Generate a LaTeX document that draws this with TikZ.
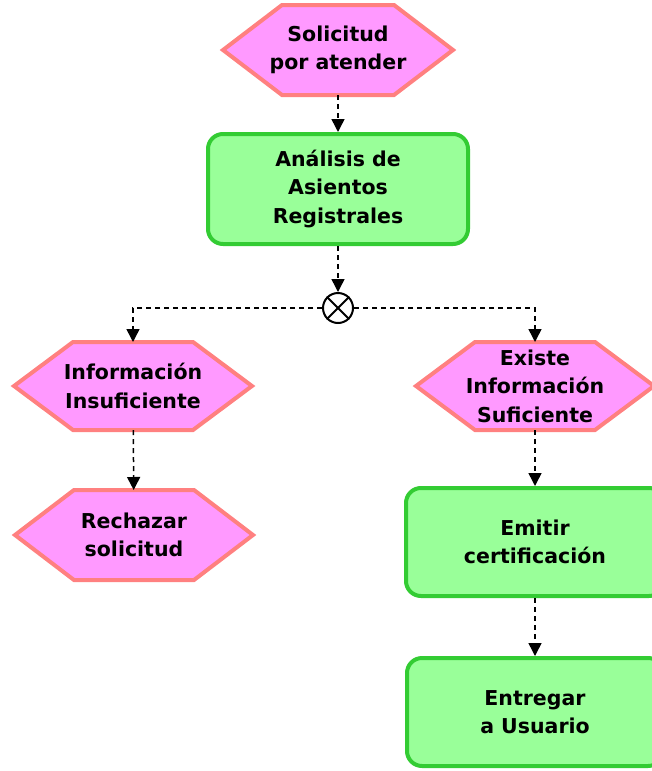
\documentclass[tikz,border=0pt]{standalone}
\usepackage{fontspec}
\setsansfont{DejaVu Sans}
\usetikzlibrary{arrows.meta,backgrounds}

\definecolor{evfill}{HTML}{FF99FF}
\definecolor{evline}{HTML}{FF8080}
\definecolor{fnfill}{HTML}{99FF99}
\definecolor{fnline}{HTML}{33CC33}

\tikzset{
  txt/.style={align=center, font=\sffamily\bfseries\fontsize{20.5}{28.5}\selectfont},
  evento/.style={txt, rectangle, inner sep=0pt, outer sep=0pt,
    minimum width=238pt, minimum height=88pt},
  hexa/.style={draw=evline, fill=evfill, line width=4pt, line join=miter},
  funcion/.style={txt, rectangle, rounded corners=15pt, draw=fnline, fill=fnfill,
    line width=4pt, minimum width=258pt, minimum height=108pt},
  flujo/.style={line width=1.5pt, dash pattern=on 5pt off 4pt,
    -{Triangle[width=13pt,length=13pt]}},
}

\begin{document}
\begin{tikzpicture}[x=1pt,y=-1pt]
    \useasboundingbox (0,0) rectangle (652,771);
    \clip (0,0) rectangle (652,771);

    % eventos y funciones
    \node[evento, minimum width=230pt, minimum height=90pt] (sol) at (338,50) {Solicitud\\por atender};
    \node[funcion, minimum width=260pt, minimum height=110pt] (ana) at (338,189) {An\'alisis de\\Asientos\\Registrales};
    \node[circle, draw, line width=2pt, minimum size=30pt, inner sep=0pt] (xo) at (338,308) {};
    \node[evento] (inf) at (133,386) {Informaci\'on\\Insuficiente};
    \node[evento, minimum height=90pt] (rec) at (134,535) {Rechazar\\solicitud};
    \node[evento] (exi) at (535,386) {Existe\\Informaci\'on\\Suficiente};
    \node[funcion] (emi) at (535,542) {Emitir\\certificaci\'on};
    \node[funcion, minimum width=256pt] (ent) at (535,712) {Entregar\\a Usuario};

    % hexagonos detras del texto
    \begin{scope}[on background layer]
      \foreach \n in {sol,inf,rec,exi}
        \draw[hexa] (\n.west) -- ([xshift=59pt]\n.north west) -- ([xshift=-59pt]\n.north east)
          -- (\n.east) -- ([xshift=-59pt]\n.south east) -- ([xshift=59pt]\n.south west) -- cycle;
    \end{scope}

    % conector XOR
    \draw[line width=2pt] (xo.north west) -- (xo.south east);
    \draw[line width=2pt] (xo.north east) -- (xo.south west);

    % flujo
    \draw[flujo] (sol) -- (ana);
    \draw[flujo] (ana) -- (xo);
    \draw[flujo] (xo.west) -| (inf.north);
    \draw[flujo] (xo.east) -| (exi.north);
    \draw[flujo] (inf) -- (rec);
    \draw[flujo] (exi) -- (emi);
    \draw[flujo] (emi) -- (ent);
\end{tikzpicture}
\end{document}
